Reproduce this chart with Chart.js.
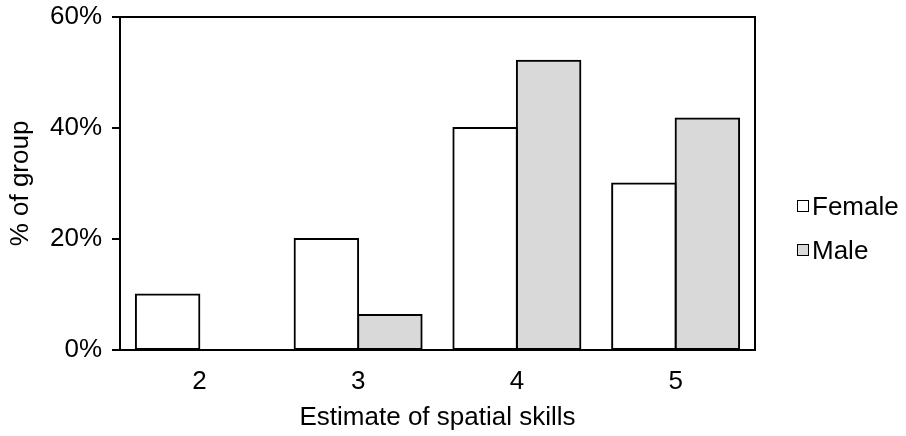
<!DOCTYPE html>
<html>
<head>
<meta charset="utf-8">
<script src="https://cdn.jsdelivr.net/npm/chart.js@4/dist/chart.umd.min.js"></script>
<style>
  html, body { margin: 0; padding: 0; background: #fff; }
  #wrap { position: relative; width: 906px; height: 436px; }
  #c { display: block; }
  #legend { position: absolute; left: 797px; top: 0; font-family: "Liberation Sans", Arial, sans-serif; font-size: 26px; color: #000; }
  .item { position: absolute; left: 0; display: flex; align-items: center; white-space: nowrap; height: 30px; }
  .swatch { width: 10px; height: 10px; border: 1px solid #000; margin-right: 3px; }
</style>
</head>
<body>
<div id="wrap">
  <canvas id="c" width="906" height="436"></canvas>
  <div id="legend"></div>
</div>
<script>
// Self-rated spatial skills, share of each group per rating
const categories = ['2', '3', '4', '5'];
const femaleValues = [10, 20, 40, 30];
const maleValues = [0, 6.3, 52.1, 41.7];
const seriesNames = ['Female', 'Male'];
const seriesFills = ['#ffffff', '#d9d9d9'];
const yTicks = [0, 20, 40, 60];

const FONT = '"Liberation Sans", Arial, sans-serif';

// Outline the top and right edges of the plot area
const frame = {
  id: 'frame',
  afterDatasetsDraw(chart) {
    const {ctx, chartArea: a} = chart;
    ctx.save();
    ctx.strokeStyle = '#000';
    ctx.lineWidth = 2;
    ctx.beginPath();
    ctx.moveTo(a.left, a.top);
    ctx.lineTo(a.right, a.top);
    ctx.lineTo(a.right, a.bottom);
    ctx.stroke();
    ctx.restore();
  }
};

const barStyle = (fill) => ({
  backgroundColor: fill,
  borderColor: '#000',
  borderWidth: 2,
  borderSkipped: false,
  inflateAmount: (c) => (c.raw ? 1 : 0),
  categoryPercentage: 0.8,
  barPercentage: 1.0
});

const chart = new Chart(document.getElementById('c'), {
  type: 'bar',
  data: {
    labels: categories,
    datasets: [
      Object.assign({label: seriesNames[0], data: femaleValues}, barStyle(seriesFills[0])),
      Object.assign({label: seriesNames[1], data: maleValues}, barStyle(seriesFills[1]))
    ]
  },
  options: {
    responsive: false,
    animation: false,
    layout: { padding: { left: 0, top: 17, right: 151, bottom: 0 } },
    plugins: { legend: { display: false }, tooltip: { enabled: false } },
    scales: {
      x: {
        grid: { display: false, drawTicks: false },
        border: { display: true, color: '#000', width: 2 },
        ticks: { color: '#000', font: { family: FONT, size: 26 }, padding: 16 },
        title: { display: true, text: 'Estimate of spatial skills', color: '#000',
                 font: { family: FONT, size: 26 }, padding: { top: 0, bottom: 3 } },
        afterFit(s) { s.height = 86; s.paddingLeft = 0; s.paddingRight = 0; }
      },
      y: {
        min: 0, max: 60,
        afterBuildTicks(s) { s.ticks = yTicks.map(v => ({value: v})); },
        grid: { display: true, drawOnChartArea: false, drawTicks: true, tickLength: 8,
                color: '#000', lineWidth: 2 },
        border: { display: true, color: '#000', width: 2 },
        ticks: { color: '#000', font: { family: FONT, size: 26 }, padding: 10,
                 callback: (v) => v + '%' },
        title: { display: true, text: '% of group', color: '#000',
                 font: { family: FONT, size: 26 }, padding: { top: 5, bottom: 0 } },
        afterFit(s) { s.width = 120; s.paddingTop = 0; s.paddingBottom = 0; }
      }
    }
  },
  plugins: [frame]
});

// Legend built from the datasets
const legend = document.getElementById('legend');
const rowCenters = [206, 250];
chart.data.datasets.forEach((ds, i) => {
  const item = document.createElement('div');
  item.className = 'item';
  item.style.top = (rowCenters[i] - 15) + 'px';
  const sw = document.createElement('span');
  sw.className = 'swatch';
  sw.style.background = ds.backgroundColor;
  const tx = document.createElement('span');
  tx.textContent = ds.label;
  item.appendChild(sw);
  item.appendChild(tx);
  legend.appendChild(item);
});
</script>
</body>
</html>
